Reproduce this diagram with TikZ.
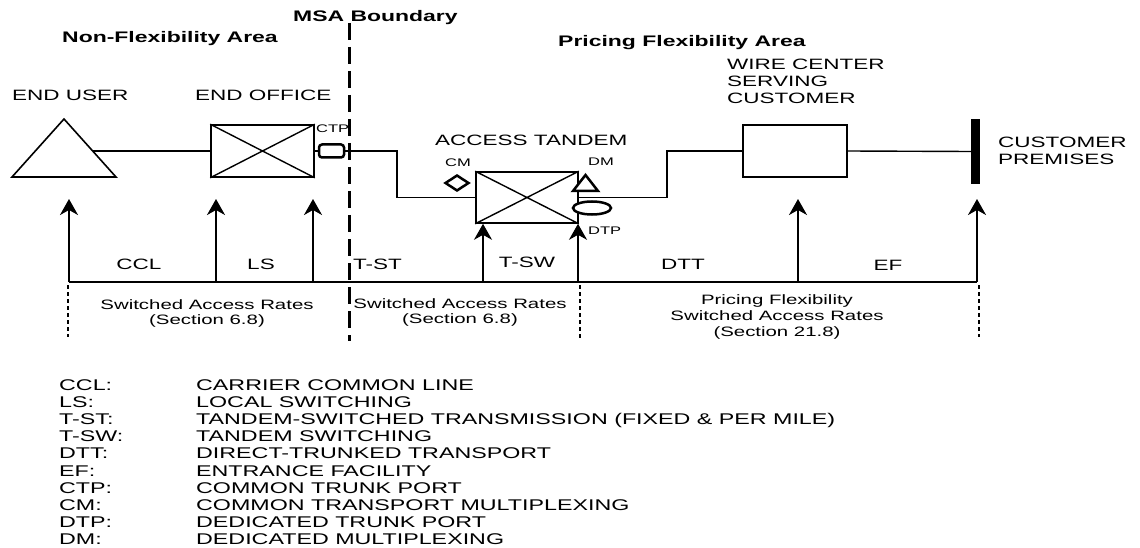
\documentclass[tikz,border=0pt]{standalone}
\usepackage{fontspec}
\setmainfont{Liberation Sans}[FakeStretch=1.5]
\usetikzlibrary{arrows.meta,shapes.geometric}
\begin{document}
\begin{tikzpicture}[x=1pt,y=-1pt,
  txt/.style={font=\fontsize{15}{17}\selectfont, inner sep=0pt, anchor=base west},
  ctxt/.style={font=\fontsize{15}{17}\selectfont, inner sep=0pt, anchor=base},
  rtxt/.style={font=\fontsize{13.6}{15}\selectfont, inner sep=0pt, anchor=base},
  head/.style={font=\fontsize{15.3}{17}\selectfont\bfseries, inner sep=0pt, anchor=base west},
  small/.style={font=\fontsize{11}{12}\selectfont, inner sep=0pt, anchor=base west},
  leg/.style={font=\fontsize{15.5}{17}\selectfont, inner sep=0pt, anchor=base west},
  thinln/.style={line width=1.4pt},
  xbox/.style={draw, line width=1.6pt, rectangle, inner sep=0pt},
  markshape/.style={draw, line width=2.5pt, fill=white, inner sep=0pt},
  uparr/.style={line width=2pt, -{Stealth[length=16pt,width=18pt,inset=5pt]}},
  dotln/.style={line width=2.2pt, dash pattern=on 4pt off 3pt},
]
\useasboundingbox (0,0) rectangle (1140,548);

% headings
\node[head] (msah) at (293,22) {MSA Boundary};
\node[head] (nfa) at (62,43) {Non-Flexibility Area};
\node[head] (pfa) at (558,47) {Pricing Flexibility Area};

% labels
\node[txt] (eul) at (12,100.5) {END USER};
\node[txt] (eol) at (195,100.5) {END OFFICE};
\node[txt] (atl) at (435,146) {ACCESS TANDEM};
\node[txt] (wc1) at (727,70) {WIRE CENTER};
\node[txt] (wc2) at (727,87) {SERVING};
\node[txt] (wc3) at (727,103.5) {CUSTOMER};
\node[txt] (cp1) at (998,148) {CUSTOMER};
\node[txt] (cp2) at (998,165) {PREMISES};

% end user triangle
\draw[line width=1.6pt] (12,177) -- (116,177) -- (64,119) -- cycle;
\coordinate (eu) at (92.7,151);

% end office
\node[xbox, minimum width=103pt, minimum height=52pt] (eo) at (262.5,151) {};
\draw[thinln] (eo.north west) -- (eo.south east) (eo.south west) -- (eo.north east);

% CTP
\node[small] (ctpl) at (316,133) {CTP};
\node[draw, line width=2.5pt, rounded corners=3pt, minimum width=25pt, minimum height=13pt, inner sep=0pt] (ctp) at (331.5,151) {};

% access tandem
\node[xbox, minimum width=102pt, minimum height=51pt] (at) at (527,197.5) {};
\draw[thinln] (at.north west) -- (at.south east) (at.south west) -- (at.north east);

% wire center and customer premises
\node[xbox, minimum width=104pt, minimum height=52pt] (wc) at (795,151) {};
\node[fill=black, minimum width=9pt, minimum height=65pt, inner sep=0pt] (cp) at (975.5,151.5) {};

% connectors
\coordinate (b1) at (397,151);
\coordinate (b2) at (667,197.5);
\draw[thinln] (eu) -- (eo.west);
\draw[thinln] (eo.east) -- (ctp.west);
\draw[thinln] (ctp.east) -- (b1) |- (at.west);
\draw[thinln] (at.east) -- (b2) |- (wc.west);
\draw[thinln] (wc.east) -- (cp.west);

% CM, DM, DTP markers
\node[small] (cml) at (445,167) {CM};
\node[markshape, diamond, minimum width=24pt, minimum height=16pt] (cm) at (457,183) {};
\node[small] (dml) at (588,166) {DM};
\coordinate (dmA) at (585.5,175);
\coordinate (dmB) at (598,191);
\coordinate (dmC) at (573,191);
\draw[line width=2.5pt, fill=white, line join=miter] (dmA) -- (dmB) -- (dmC) -- cycle;
\node[markshape, ellipse, minimum width=38pt, minimum height=13pt] (dtp) at (592,208) {};
\node[small] (dtpl) at (588,234) {DTP};

% baseline and arrows
\coordinate (p1) at (69,282);
\coordinate (p2) at (216,282);
\coordinate (p3) at (313,282);
\coordinate (p4) at (483,282);
\coordinate (p5) at (578,282);
\coordinate (p6) at (798,282);
\coordinate (p7) at (977,282);
\coordinate (t1) at (69,199);
\coordinate (t2) at (216,199);
\coordinate (t3) at (313,199);
\coordinate (t6) at (798,199);
\coordinate (t7) at (977,199);
\draw[line width=1.5pt] (p1) -- (p7);
\draw[uparr] (p1) -- (t1);
\draw[uparr] (p2) -- (t2);
\draw[uparr] (p3) -- (t3);
\draw[uparr] (p4) -- (p4 |- at.south);
\draw[uparr] (p5) -- (p5 |- at.south);
\draw[uparr] (p6) -- (t6);
\draw[uparr] (p7) -- (t7);

% segment labels
\node[ctxt] (ccl) at (139,269) {CCL};
\node[ctxt] (ls) at (261,269) {LS};
\node[txt] (tst) at (353,269) {T-ST};
\node[ctxt] (tsw) at (527,267) {T-SW};
\node[ctxt] (dtt) at (683,269) {DTT};
\node[ctxt] (ef) at (888,270) {EF};

% dotted separators
\coordinate (d1a) at (68,285); \coordinate (d1b) at (68,337);
\coordinate (d2a) at (580,285); \coordinate (d2b) at (580,339);
\coordinate (d3a) at (979,285); \coordinate (d3b) at (979,337);
\draw[dotln] (d1a) -- (d1b);
\draw[dotln] (d2a) -- (d2b);
\draw[dotln] (d3a) -- (d3b);

% rate texts
\node[rtxt] (r1a) at (207,309) {Switched Access Rates};
\node[rtxt] (r1b) at (207,324) {(Section 6.8)};
\node[rtxt] (r2a) at (460,308) {Switched Access Rates};
\node[rtxt] (r2b) at (460,323) {(Section 6.8)};
\node[rtxt] (r3a) at (777,304) {Pricing Flexibility};
\node[rtxt] (r3b) at (777,320) {Switched Access Rates};
\node[rtxt] (r3c) at (777,336) {(Section 21.8)};

% MSA boundary line
\coordinate (msaT) at (349,23);
\coordinate (msaB) at (349,341);
\draw[line width=3pt, dash pattern=on 17pt off 7pt] (msaT) -- (msaB);

% legend
\foreach \a/\d [count=\i] in {CCL:/CARRIER COMMON LINE, LS:/LOCAL SWITCHING,
  T-ST:/TANDEM-SWITCHED TRANSMISSION (FIXED \& PER MILE), T-SW:/TANDEM SWITCHING,
  DTT:/DIRECT-TRUNKED TRANSPORT, EF:/ENTRANCE FACILITY, CTP:/COMMON TRUNK PORT,
  CM:/COMMON TRANSPORT MULTIPLEXING, DTP:/DEDICATED TRUNK PORT, DM:/DEDICATED MULTIPLEXING}{
  \node[leg] (la\i) at (59,{390+(\i-1)*17.2}) {\a};
  \node[leg] (ld\i) at (196,{390+(\i-1)*17.2}) {\d};
}
\end{tikzpicture}
\end{document}
